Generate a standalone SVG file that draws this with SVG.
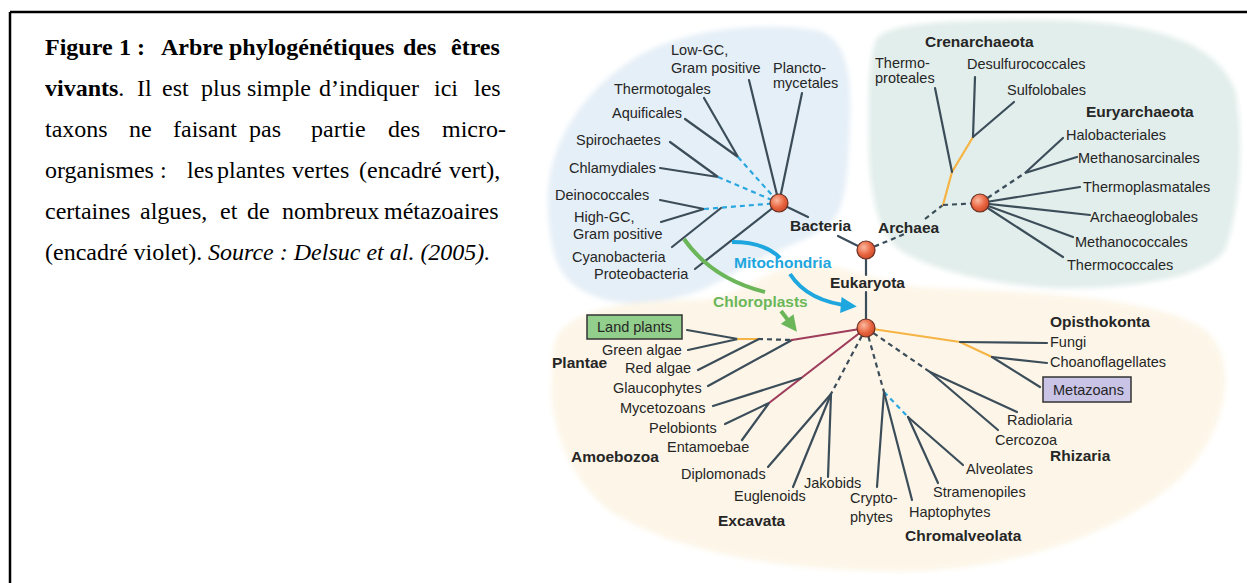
<svg xmlns="http://www.w3.org/2000/svg" width="1247" height="583" viewBox="0 0 1247 583">
<style>
.cap{font-family:"Liberation Serif","Times New Roman",serif;font-size:24px;fill:#000}
.t{font-family:"Liberation Sans",Arial,sans-serif;font-size:14.5px;fill:#262626}
.b{font-weight:bold;font-size:15.5px}
.ln{stroke:#3c4d5a;stroke-width:2.2;fill:none;stroke-linecap:round}
.d{stroke-dasharray:5 4;stroke-linecap:butt}
.bl{stroke:#2aa7e0}
.or{stroke:#f6b444}
.mr{stroke:#9e3d5c}
.node{fill:url(#ng);stroke:#6b2e22;stroke-width:1.2}
.box{stroke:#333;stroke-width:1.5}
</style>
<defs>
<radialGradient id="ng" cx="0.38" cy="0.35" r="0.7">
<stop offset="0" stop-color="#fbb9a0"/>
<stop offset="0.6" stop-color="#e8643f"/>
<stop offset="1" stop-color="#c94a2a"/>
</radialGradient>
<filter id="soft" x="-5%" y="-5%" width="110%" height="110%"><feGaussianBlur stdDeviation="2.5"/></filter>
<marker id="mBlue" viewBox="0 0 10 10" refX="7" refY="5" markerWidth="17" markerHeight="16" markerUnits="userSpaceOnUse" orient="auto"><path d="M0,0 L10,5 L0,10 z" fill="#1ea6de"/></marker>
<marker id="mGreen" viewBox="0 0 10 10" refX="7" refY="5" markerWidth="17" markerHeight="16" markerUnits="userSpaceOnUse" orient="auto"><path d="M0,0 L10,5 L0,10 z" fill="#6cb65a"/></marker>
</defs>
<rect width="1247" height="583" fill="#fff"/>
<g id="frame" stroke="#000" stroke-width="2.5" fill="none">
<line x1="10" y1="12" x2="1247" y2="12"/>
<line x1="10" y1="12" x2="10" y2="583"/>
</g>
<g id="caption" class="cap">
<text y="55" font-weight="bold"><tspan x="45">Figure</tspan><tspan x="119">1 :</tspan><tspan x="161">Arbre</tspan><tspan x="229">phylogénétiques</tspan><tspan x="403">des</tspan><tspan x="451">êtres</tspan></text>
<text y="96"><tspan x="45" font-weight="bold">vivants</tspan><tspan>.</tspan><tspan x="137">Il</tspan><tspan x="162">est</tspan><tspan x="201">plus</tspan><tspan x="247">simple</tspan><tspan x="319">d’indiquer</tspan><tspan x="434">ici</tspan><tspan x="474">les</tspan></text>
<text y="137"><tspan x="45">taxons</tspan><tspan x="129">ne</tspan><tspan x="173">faisant</tspan><tspan x="249">pas</tspan><tspan x="311">partie</tspan><tspan x="388">des</tspan><tspan x="442">micro-</tspan></text>
<text y="178"><tspan x="45">organismes :</tspan><tspan x="187">les</tspan><tspan x="217">plantes</tspan><tspan x="292">vertes</tspan><tspan x="359">(encadré</tspan><tspan x="449">vert),</tspan></text>
<text y="219"><tspan x="45">certaines</tspan><tspan x="140">algues,</tspan><tspan x="220">et</tspan><tspan x="247">de</tspan><tspan x="282">nombreux</tspan><tspan x="384">métazoaires</tspan></text>
<text y="260"><tspan x="45">(encadré violet).</tspan><tspan x="208" font-style="italic">Source : Delsuc et al. (2005).</tspan></text>
</g>
<g id="blobs" filter="url(#soft)">
<path id="blob-bacteria" fill="#e5eff7" d="M548,205 C545,150 580,90 640,55 C690,28 760,22 815,30 C845,36 852,70 850,120 C848,170 847,208 830,224 C806,242 770,252 742,268 C716,284 690,300 640,303 C610,304 580,295 565,276 C552,258 549,235 548,205 Z"/>
<path id="blob-archaea" fill="#e2eeeb" d="M876,40 C886,22 950,20 1050,20 C1150,22 1215,40 1235,90 C1245,140 1240,210 1225,250 C1205,280 1120,290 1050,288 C990,284 930,270 900,250 C880,236 870,200 869,150 C868,100 868,60 876,40 Z"/>
<path id="blob-eukaryota" fill="#fdf6e8" d="M556,338 C575,305 640,300 700,300 C740,298 770,266 805,264 C840,263 870,280 920,287 C1000,292 1150,292 1205,330 C1240,360 1228,430 1182,476 C1132,526 1030,566 920,571 C800,573 680,556 610,511 C570,481 548,421 552,381 C553,360 552,348 556,338 Z"/>
</g>
<g id="connectors">
<line class="ln" x1="749" y1="80" x2="779" y2="203"/>
<line class="ln" x1="802" y1="93" x2="779" y2="203"/>
<polyline class="ln" points="704,98 738,157 685,119"/>
<line class="ln d bl" x1="738" y1="157" x2="779" y2="203"/>
<polyline class="ln" points="670,142 718,177 660,168"/>
<line class="ln d bl" x1="718" y1="177" x2="779" y2="203"/>
<polyline class="ln" points="660,200 704,209 661,222"/>
<line class="ln d bl" x1="704" y1="209" x2="779" y2="203"/>
<line class="ln" x1="672" y1="247" x2="721" y2="208"/>
<line class="ln" x1="695" y1="269" x2="779" y2="203"/>
<line class="ln" x1="779" y1="203" x2="808" y2="217"/>
<line class="ln" x1="838" y1="236" x2="866" y2="250"/>
<line class="ln d" x1="866" y1="250" x2="907" y2="233"/>
<line class="ln d" x1="925" y1="219" x2="943" y2="205"/>
<polyline class="ln or" points="943,205 952,172 973,137"/>
<line class="ln" x1="935" y1="88" x2="952" y2="172"/>
<line class="ln" x1="975" y1="77" x2="973" y2="137"/>
<line class="ln" x1="1014" y1="102" x2="973" y2="137"/>
<line class="ln d" x1="943" y1="205" x2="980" y2="203"/>
<line class="ln d" x1="980" y1="203" x2="1025" y2="173"/>
<polyline class="ln" points="1063,138 1025,173 1077,157"/>
<line class="ln" x1="980" y1="203" x2="1080" y2="187"/>
<line class="ln" x1="980" y1="203" x2="1090" y2="215"/>
<line class="ln" x1="980" y1="203" x2="1073" y2="237"/>
<line class="ln" x1="980" y1="203" x2="1063" y2="257"/>
<line class="ln" x1="866" y1="250" x2="866" y2="275"/>
<line class="ln" x1="866" y1="292" x2="866" y2="328"/>
<polyline class="ln" points="687,330 738,339 688,350"/>
<line class="ln or" x1="738" y1="339" x2="758" y2="339"/>
<line class="ln d" x1="758" y1="339" x2="792" y2="340"/>
<line class="ln" x1="698" y1="370" x2="759" y2="339"/>
<line class="ln" x1="708" y1="386" x2="792" y2="340"/>
<line class="ln mr" x1="792" y1="340" x2="866" y2="328"/>
<line class="ln mr" x1="866" y1="328" x2="769" y2="403"/>
<line class="ln" x1="713" y1="406" x2="801" y2="378"/>
<polyline class="ln" points="725,424 769,403 742,440"/>
<line class="ln d" x1="866" y1="328" x2="831" y2="394"/>
<line class="ln" x1="768" y1="467" x2="831" y2="394"/>
<line class="ln" x1="793" y1="487" x2="831" y2="394"/>
<line class="ln" x1="828" y1="477" x2="831" y2="394"/>
<polyline class="ln or" points="866,328 960,342 992,357"/>
<line class="ln" x1="960" y1="342" x2="1047" y2="343"/>
<line class="ln" x1="992" y1="357" x2="1047" y2="363"/>
<line class="ln" x1="992" y1="357" x2="1040" y2="387"/>
<line class="ln d" x1="866" y1="328" x2="930" y2="372"/>
<line class="ln" x1="930" y1="372" x2="1017" y2="412"/>
<line class="ln" x1="930" y1="372" x2="998" y2="430"/>
<line class="ln d" x1="866" y1="328" x2="884" y2="392"/>
<line class="ln d bl" x1="884" y1="392" x2="908" y2="417"/>
<line class="ln" x1="884" y1="392" x2="877" y2="487"/>
<line class="ln" x1="884" y1="392" x2="912" y2="500"/>
<line class="ln" x1="908" y1="417" x2="963" y2="465"/>
<line class="ln" x1="908" y1="417" x2="938" y2="483"/>
<path d="M732,242 Q765,242 780,258" fill="none" stroke="#1ea6de" stroke-width="4"/>
<path d="M790,274 Q808,302 852,306" fill="none" stroke="#1ea6de" stroke-width="4" marker-end="url(#mBlue)"/>
<path d="M684,239 C700,262 725,282 765,292" fill="none" stroke="#6cb65a" stroke-width="4"/>
<path d="M781,311 L794,328" fill="none" stroke="#6cb65a" stroke-width="4" marker-end="url(#mGreen)"/>
</g>
<g id="node-bacteria"><circle class="node" cx="779" cy="203" r="9"/></g>
<g id="node-root"><circle class="node" cx="866" cy="250" r="9"/></g>
<g id="node-archaea"><circle class="node" cx="980" cy="203" r="9"/></g>
<g id="node-eukaryota"><circle class="node" cx="866" cy="328" r="9"/></g>
<g id="box-landplants"><rect class="box" x="587" y="315" width="95" height="24" fill="#93cf8c"/><text class="t" x="597" y="332">Land plants</text></g>
<g id="box-metazoans"><rect class="box" x="1043" y="377" width="88" height="25" fill="#c9c3e6"/><text class="t" x="1053" y="395">Metazoans</text></g>
<g id="labels-bacteria" class="t">
<text x="671" y="55">Low-GC,</text>
<text x="671" y="73">Gram positive</text>
<text x="773" y="73">Plancto-</text>
<text x="773" y="88">mycetales</text>
<text x="614" y="94">Thermotogales</text>
<text x="612" y="118">Aquificales</text>
<text x="576" y="145">Spirochaetes</text>
<text x="569" y="173">Chlamydiales</text>
<text x="555" y="200">Deinococcales</text>
<text x="574" y="222">High-GC,</text>
<text x="573" y="239">Gram positive</text>
<text x="572" y="262">Cyanobacteria</text>
<text x="594" y="279">Proteobacteria</text>
<text class="b" x="790" y="231">Bacteria</text>
<text class="b" x="734" y="268" fill="#1ea6de">Mitochondria</text>
<text class="b" x="830" y="288">Eukaryota</text>
<text class="b" x="713" y="307" fill="#6cb65a">Chloroplasts</text>
</g>
<g id="labels-archaea" class="t">
<text class="b" x="878" y="233">Archaea</text>
<text class="b" x="925" y="47">Crenarchaeota</text>
<text x="875" y="68">Thermo-</text>
<text x="875" y="83">proteales</text>
<text x="967" y="69">Desulfurococcales</text>
<text x="1007" y="95">Sulfolobales</text>
<text class="b" x="1086" y="117">Euryarchaeota</text>
<text x="1066" y="140">Halobacteriales</text>
<text x="1078" y="163">Methanosarcinales</text>
<text x="1083" y="192">Thermoplasmatales</text>
<text x="1090" y="222">Archaeoglobales</text>
<text x="1075" y="247">Methanococcales</text>
<text x="1067" y="270">Thermococcales</text>
</g>
<g id="labels-eukaryota" class="t">
<text x="602" y="355">Green algae</text>
<text x="625" y="373">Red algae</text>
<text class="b" x="552" y="368">Plantae</text>
<text x="613" y="393">Glaucophytes</text>
<text x="620" y="413">Mycetozoans</text>
<text x="649" y="433">Pelobionts</text>
<text x="667" y="452">Entamoebae</text>
<text class="b" x="571" y="462">Amoebozoa</text>
<text x="681" y="479">Diplomonads</text>
<text x="734" y="501">Euglenoids</text>
<text x="804" y="488">Jakobids</text>
<text class="b" x="718" y="526">Excavata</text>
<text x="850" y="503">Crypto-</text>
<text x="850" y="522">phytes</text>
<text x="909" y="517">Haptophytes</text>
<text x="933" y="497">Stramenopiles</text>
<text x="966" y="474">Alveolates</text>
<text class="b" x="905" y="541">Chromalveolata</text>
<text class="b" x="1050" y="327">Opisthokonta</text>
<text x="1050" y="347">Fungi</text>
<text x="1050" y="367">Choanoflagellates</text>
<text x="1007" y="425">Radiolaria</text>
<text x="995" y="445">Cercozoa</text>
<text class="b" x="1050" y="461">Rhizaria</text>
</g>
</svg>
